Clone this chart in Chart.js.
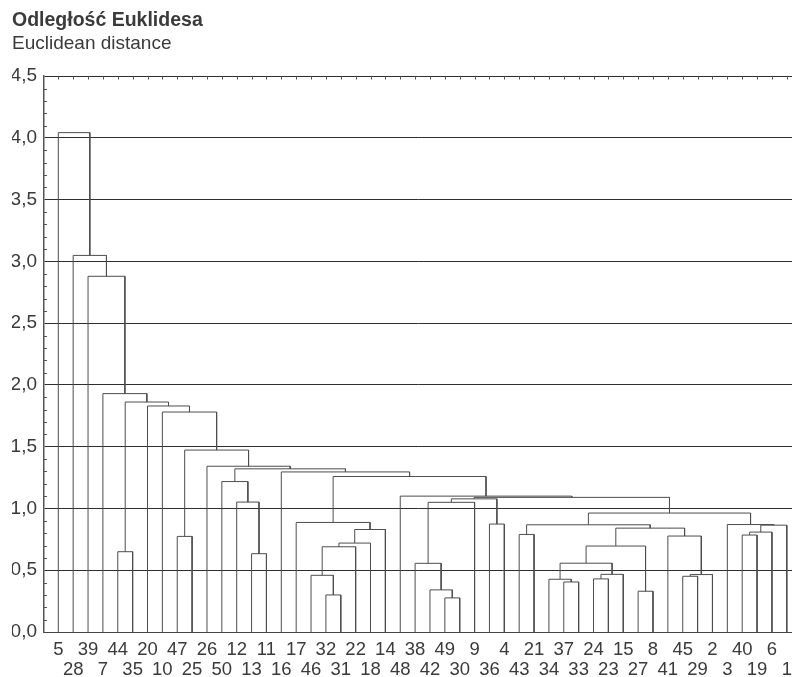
<!DOCTYPE html>
<html>
<head>
<meta charset="utf-8">
<script src="https://cdn.jsdelivr.net/npm/chart.js@4/dist/chart.umd.min.js"></script>
<style>
  html, body { margin: 0; padding: 0; background: #fff; }
  canvas { display: block; }
</style>
</head>
<body>
<canvas id="dendro" width="792" height="677"></canvas>
<script>
// Leaf order along the horizontal axis (observation numbers)
const leafOrder = [5, 28, 39, 7, 44, 35, 20, 10, 47, 25, 26, 50, 12, 13, 11, 16, 17, 46, 32, 31,
  22, 18, 14, 48, 38, 42, 49, 30, 9, 36, 4, 43, 21, 34, 37, 33, 24, 23, 15, 27,
  8, 41, 45, 29, 2, 3, 40, 19, 6, 1];

// Agglomeration steps (hclust convention: negative = observation, positive = earlier step)
const mergeLeft = [-49, -32, -27, -42, -37, -34, -24, -45, -46, 7, 8, -38, 6, -13, -44, 9, 13, 16,
  -47, -41, -40, -43, 21, 18, 17, 23, -36, 22, -3, -17, 28, 12, -12, 32, 34, -48, -50, 30, -16,
  37, -26, 19, -10, -20, 15, -7, -39, -28, -5];
const mergeRight = [-30, -31, -8, 1, -33, 5, -23, -29, 2, -15, -2, 4, 10, -11, -35, -22, 3, -18,
  -25, 11, -19, -21, -6, -14, 20, -1, -4, 25, 26, 24, 29, -9, 14, 27, 31, 35, 33, 36, 38,
  39, 40, 41, 42, 43, 44, 45, 46, 47, 48];
const mergeHeight = [0.276, 0.300, 0.330, 0.341, 0.405, 0.427, 0.430, 0.451, 0.459, 0.467, 0.465,
  0.556, 0.557, 0.634, 0.650, 0.690, 0.696, 0.720, 0.774, 0.777, 0.785, 0.790, 0.809, 0.830,
  0.841, 0.865, 0.874, 0.868, 0.870, 0.887, 0.963, 1.050, 1.052, 1.078, 1.090, 1.100, 1.218,
  1.259, 1.296, 1.321, 1.342, 1.473, 1.781, 1.830, 1.862, 1.930, 2.880, 3.049, 4.043];

const yTickValues = [0, 0.5, 1, 1.5, 2, 2.5, 3, 3.5, 4, 4.5];

const textColor = '#3a3a3a';
const gridColor = '#2f2f2f';
const treeColor = '#4d4d4d';

// Node positions: leaves sit at 1..n, each merge at the midpoint of its two children
const leafPos = {};
leafOrder.forEach((lab, i) => { leafPos[lab] = i + 1; });
const nodeX = [], nodeY = [];
function childPos(ref) {
  if (ref < 0) return { x: leafPos[-ref], y: 0 };
  return { x: nodeX[ref - 1], y: nodeY[ref - 1] };
}
const datasets = [];
mergeHeight.forEach((h, k) => {
  const a = childPos(mergeLeft[k]);
  const b = childPos(mergeRight[k]);
  nodeX[k] = (a.x + b.x) / 2;
  nodeY[k] = h;
  const [l, r] = a.x <= b.x ? [a, b] : [b, a];
  datasets.push({
    data: [{ x: l.x, y: l.y }, { x: l.x, y: h }, { x: r.x, y: h }, { x: r.x, y: r.y }],
    showLine: true,
    borderColor: treeColor,
    borderWidth: 1,
    pointRadius: 0,
    tension: 0,
    fill: false
  });
});

// Small inward tick marks: minor steps on the value axis, one per leaf on the top edge
const innerTicks = {
  id: 'innerTicks',
  afterDatasetsDraw(chart) {
    const { ctx, chartArea, scales } = chart;
    ctx.save();
    ctx.strokeStyle = '#555';
    ctx.lineWidth = 1;
    ctx.beginPath();
    for (let i = 1; i < 45; i++) {
      if (i % 5 === 0) continue;
      const y = Math.round(scales.y.getPixelForValue(i / 10)) + 0.5;
      ctx.moveTo(chartArea.left, y);
      ctx.lineTo(chartArea.left + 3, y);
    }
    const top = Math.round(chartArea.top) + 0.5;
    leafOrder.forEach((_, i) => {
      const x = Math.round(scales.x.getPixelForValue(i + 1)) + 0.5;
      ctx.moveTo(x, top);
      ctx.lineTo(x, top + 3);
    });
    ctx.stroke();
    ctx.restore();
  }
};

new Chart(document.getElementById('dendro'), {
  type: 'scatter',
  data: { datasets },
  plugins: [innerTicks],
  options: {
    responsive: false,
    animation: false,
    events: [],
    layout: { padding: { left: 12, right: 0, top: 0, bottom: 0 } },
    plugins: {
      legend: { display: false },
      tooltip: { enabled: false },
      title: {
        display: true,
        text: 'Odległość Euklidesa',
        align: 'start',
        color: textColor,
        font: { family: '"Liberation Sans", Arial, sans-serif', size: 19.5, weight: 'bold' },
        padding: { top: 9, bottom: 0 }
      },
      subtitle: {
        display: true,
        text: 'Euclidean distance',
        align: 'start',
        color: textColor,
        font: { family: '"Liberation Sans", Arial, sans-serif', size: 19, weight: 'normal' },
        padding: { top: 0, bottom: 21 }
      }
    },
    scales: {
      x: {
        type: 'linear',
        min: 0.038,
        max: 50.35,
        grid: { display: false, drawTicks: false },
        border: { display: true, color: '#444', width: 1 },
        afterBuildTicks(scale) {
          scale.ticks = leafOrder.map((_, i) => ({ value: i + 1 }));
        },
        afterFit(scale) {
          scale.height = 45;
          scale.paddingLeft = 0;
          scale.paddingRight = 0;
        },
        ticks: {
          autoSkip: false,
          maxRotation: 0,
          minRotation: 0,
          padding: 8.5,
          color: textColor,
          font: { family: '"Liberation Sans", Arial, sans-serif', size: 18.5, lineHeight: 1.065 },
          callback(value, index) {
            const lab = String(leafOrder[index]);
            return index % 2 === 0 ? [lab, ''] : ['', lab];
          }
        }
      },
      y: {
        type: 'linear',
        min: 0,
        max: 4.5,
        afterBuildTicks(scale) {
          scale.ticks = yTickValues.map(v => ({ value: v }));
        },
        afterFit(scale) {
          scale.width = 32;
        },
        grid: { color: gridColor, lineWidth: 1, drawTicks: false },
        border: { display: true, color: '#555', width: 1.5 },
        ticks: {
          padding: 7,
          color: textColor,
          font: { family: '"Liberation Sans", Arial, sans-serif', size: 19 },
          callback(value) {
            return value.toFixed(1).replace('.', ',');
          }
        }
      }
    }
  }
});
</script>
</body>
</html>
